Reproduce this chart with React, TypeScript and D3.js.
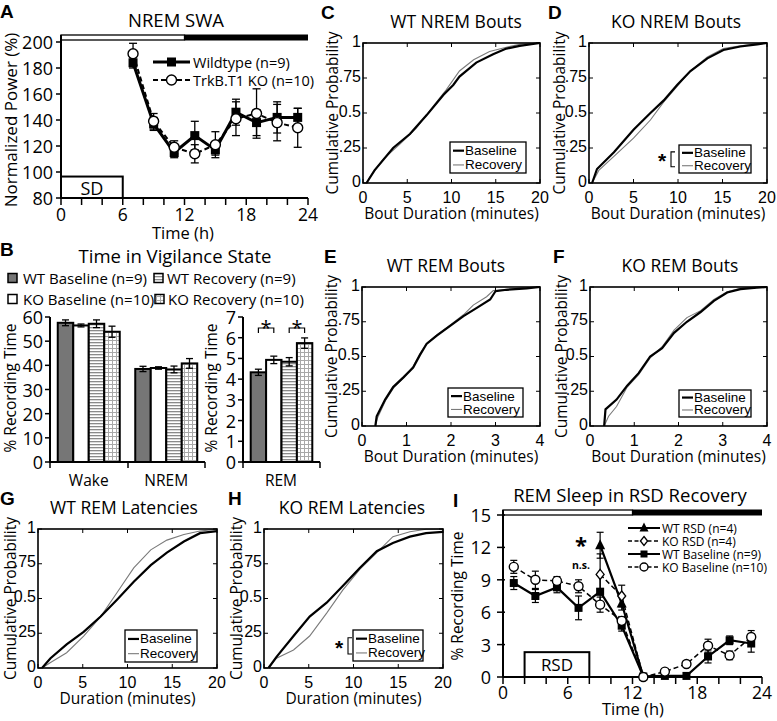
import React from "react";
import * as d3 from "d3";

const FC = "'Open Sans', sans-serif";
const FA = "'Liberation Sans', Arial, sans-serif";

// ---------- Panel A data ----------
const swaTimes = [7, 9, 11, 13, 15, 17, 19, 21, 23];
const swaWT = [184, 137, 115, 128, 117, 146, 138, 142, 142];
const swaWTErr = [4, 5, 4, 11, 4, 10, 10, 12, 7];
const swaKO = [191, 139, 119, 114, 121, 141, 145, 138, 134];
const swaKOErr = [8, 6, 5, 7, 10, 13, 19, 14, 15];
const swaYTicks = [80, 100, 120, 140, 160, 180, 200];
const hourTicks = [0, 6, 12, 18, 24];
const minorHours = [0, 2, 4, 6, 8, 10, 12, 14, 16, 18, 20, 22, 24];

// ---------- Panel B data ----------
const stateGroups = ["WT Baseline (n=9)", "KO Baseline (n=10)", "WT Recovery (n=9)", "KO Recovery (n=10)"];
const stateCats = ["Wake", "NREM"];
const wakePct = [57.6, 56.5, 57.2, 53.9];
const wakeErr = [1.2, 0.6, 1.6, 2.3];
const nremPct = [38.5, 38.9, 38.3, 40.8];
const nremErr = [1.1, 0.5, 1.4, 2.0];
const remPct = [4.33, 4.93, 4.84, 5.74];
const remErr = [0.15, 0.18, 0.2, 0.25];
const pctTicks = [0, 10, 20, 30, 40, 50, 60];
const remTicks = [0, 1, 2, 3, 4, 5, 6, 7];

// ---------- CDF data (duration, cumulative probability) ----------
const cBase: [number, number][] = [[0.4, 0], [1.3, 0.09], [3.4, 0.25], [5.3, 0.35], [7.2, 0.485], [9.1, 0.63], [10.2, 0.7], [10.9, 0.76], [12.8, 0.86], [14.7, 0.92], [16.2, 0.96], [17.7, 0.98], [20, 1]];
const cRec: [number, number][] = [[0.4, 0], [0.75, 0.04], [2.3, 0.17], [4.2, 0.28], [6.0, 0.39], [7.9, 0.545], [9.4, 0.665], [10.9, 0.8], [12.5, 0.88], [14.3, 0.94], [16.2, 0.97], [17.7, 0.99], [20, 1]];
const dBase: [number, number][] = [[0.35, 0], [0.9, 0.1], [2.8, 0.22], [5.0, 0.38], [6.9, 0.5], [8.4, 0.59], [9.9, 0.7], [11.4, 0.8], [13.3, 0.89], [15.1, 0.95], [17.0, 0.975], [18.9, 0.99], [20, 1]];
const dRec: [number, number][] = [[0.35, 0], [1.1, 0.09], [2.8, 0.19], [5.0, 0.32], [6.9, 0.45], [8.4, 0.58], [9.9, 0.69], [11.4, 0.8], [13.3, 0.9], [15.1, 0.96], [17.0, 0.98], [18.9, 0.995], [20, 1]];
const eBase: [number, number][] = [[0.3, 0], [0.33, 0.07], [0.52, 0.19], [0.7, 0.28], [0.93, 0.35], [1.15, 0.42], [1.3, 0.51], [1.45, 0.59], [1.68, 0.65], [1.98, 0.72], [2.28, 0.79], [2.58, 0.85], [2.88, 0.91], [3.0, 0.97], [3.25, 0.98], [3.7, 0.99], [4, 1]];
const eRec: [number, number][] = [[0.3, 0], [0.35, 0.06], [0.54, 0.19], [0.72, 0.28], [0.95, 0.35], [1.15, 0.43], [1.3, 0.52], [1.47, 0.6], [1.7, 0.66], [2.0, 0.73], [2.28, 0.8], [2.5, 0.87], [2.8, 0.93], [2.95, 0.975], [3.3, 0.985], [3.7, 0.995], [4, 1]];
const fBase: [number, number][] = [[0.32, 0], [0.35, 0.12], [0.6, 0.19], [0.84, 0.29], [1.1, 0.38], [1.36, 0.5], [1.63, 0.56], [1.9, 0.67], [2.19, 0.75], [2.5, 0.82], [2.8, 0.9], [3.1, 0.96], [3.4, 0.985], [3.77, 0.995], [4, 1]];
const fRec: [number, number][] = [[0.32, 0], [0.42, 0.07], [0.6, 0.14], [0.84, 0.28], [1.1, 0.37], [1.36, 0.49], [1.63, 0.57], [1.9, 0.69], [2.19, 0.78], [2.5, 0.83], [2.8, 0.91], [3.1, 0.965], [3.4, 0.99], [3.77, 0.997], [4, 1]];
const gBase: [number, number][] = [[0.45, 0], [1.4, 0.07], [3.2, 0.17], [5.1, 0.26], [7.0, 0.37], [8.8, 0.49], [10.7, 0.62], [12.6, 0.74], [14.4, 0.83], [16.3, 0.91], [18.1, 0.97], [20, 0.985]];
const gRec: [number, number][] = [[0.45, 0], [1.4, 0.04], [3.2, 0.11], [5.1, 0.23], [7.0, 0.37], [8.8, 0.54], [10.7, 0.72], [12.6, 0.85], [14.4, 0.92], [16.3, 0.96], [18.1, 0.985], [20, 1]];
const hBase: [number, number][] = [[0.5, 0], [1.4, 0.08], [3.3, 0.23], [5.1, 0.37], [7.0, 0.47], [8.8, 0.59], [10.7, 0.72], [12.6, 0.84], [14.4, 0.9], [16.3, 0.945], [18.1, 0.97], [20, 0.98]];
const hRec: [number, number][] = [[0.5, 0], [1.4, 0.07], [3.3, 0.13], [5.1, 0.23], [7.0, 0.395], [8.8, 0.56], [10.7, 0.71], [12.6, 0.83], [14.4, 0.945], [16.3, 0.98], [18.1, 0.998], [20, 1]];
const ticks20 = [0, 5, 10, 15, 20];
const ticks4 = [0, 1, 2, 3, 4];
const probTicks = [0, 0.25, 0.5, 0.75, 1];
const probLabels = ["0", ".25", "0.5", ".75", "1"];

// ---------- Panel I data ----------
const rsdTimes = [1, 3, 5, 7, 9, 11, 13, 15, 17, 19, 21, 23];
const wtBase = [8.7, 7.5, 8.3, 6.4, 7.9, 4.75, 0.05, 0.1, 0.1, 1.9, 3.4, 3.1];
const wtBaseErr = [0.6, 0.6, 0.5, 1.1, 1.5, 0.5, 0.1, 0.1, 0.1, 0.6, 0.4, 0.8];
const koBase = [10.2, 9.0, 8.9, 8.4, 6.7, 5.2, 0, 0.5, 1.2, 2.9, 2.0, 3.7];
const koBaseErr = [0.6, 0.8, 0.4, 0.6, 0.7, 0.4, 0.05, 0.1, 0.3, 0.6, 0.4, 0.6];
const rsdSubTimes = [9, 11, 13];
const wtRsd = [12.2, 6.8, 0.05];
const wtRsdErr = [1.2, 0.6, 0.05];
const koRsd = [9.5, 7.5, 0.05];
const koRsdErr = [1.9, 1.0, 0.05];
const iYTicks = [0, 3, 6, 9, 12, 15];

function ErrBar({ x, ya, yb, cap = 4, sw = 1.3 }: { x: number; ya: number; yb: number; cap?: number; sw?: number }) {
  return (
    <g stroke="#000" strokeWidth={sw}>
      <line x1={x} x2={x} y1={ya} y2={yb} />
      <line x1={x - cap} x2={x + cap} y1={ya} y2={ya} />
      <line x1={x - cap} x2={x + cap} y1={yb} y2={yb} />
    </g>
  );
}

function Sq({ x, y, s = 9 }: { x: number; y: number; s?: number }) {
  return <rect x={x - s / 2} y={y - s / 2} width={s} height={s} fill="#000" />;
}
function Circ({ x, y, r = 5 }: { x: number; y: number; r?: number }) {
  return <circle cx={x} cy={y} r={r} fill="#fff" stroke="#000" strokeWidth={1.4} />;
}
function Tri({ x, y, s = 10 }: { x: number; y: number; s?: number }) {
  return <path d={`M${x},${y - s * 0.6}L${x + s / 2},${y + s * 0.4}L${x - s / 2},${y + s * 0.4}Z`} fill="#000" />;
}
function Dia({ x, y, s = 5 }: { x: number; y: number; s?: number }) {
  return <path d={`M${x},${y - s}L${x + s * 0.8},${y}L${x},${y + s}L${x - s * 0.8},${y}Z`} fill="#fff" stroke="#000" strokeWidth={1.3} />;
}

function PanelA() {
  const x = d3.scaleLinear().domain([0, 24]).range([61, 308]);
  const y = d3.scaleLinear().domain([80, 200]).range([198, 42]);
  const ln = d3.line<number>().x((_, i) => x(swaTimes[i])).y((d) => y(d));
  return (
    <g>
      <text x={0} y={18} fontFamily={FA} fontWeight="bold" fontSize={19}>A</text>
      <text x={176} y={27} textAnchor="middle" fontFamily={FC} fontSize={18.5}>NREM SWA</text>
      <rect x={x(0)} y={35} width={x(12) - x(0)} height={5} fill="#fff" stroke="#000" strokeWidth={1.3} />
      <rect x={x(12)} y={34.5} width={x(24) - x(12)} height={6} fill="#000" />
      <line x1={x(0)} x2={x(0)} y1={35} y2={y(80)} stroke="#000" strokeWidth={2} />
      <line x1={x(0)} x2={x(24)} y1={y(80)} y2={y(80)} stroke="#000" strokeWidth={2} />
      {swaYTicks.map((t) => (
        <g key={t}>
          <line x1={x(0) - 5} x2={x(0)} y1={y(t)} y2={y(t)} stroke="#000" strokeWidth={1.5} />
          <text x={x(0) - 8} y={y(t)} textAnchor="end" dominantBaseline="central" fontFamily={FC} fontSize={18}>{t}</text>
        </g>
      ))}
      {minorHours.map((t) => (
        <line key={t} x1={x(t)} x2={x(t)} y1={y(80)} y2={y(80) + 7} stroke="#000" strokeWidth={1.5} />
      ))}
      {hourTicks.map((t) => (
        <text key={t} x={x(t)} y={221} textAnchor="middle" fontFamily={FC} fontSize={17.5}>{t}</text>
      ))}
      <text x={183} y={239} textAnchor="middle" fontFamily={FC} fontSize={16.5}>Time (h)</text>
      <text transform={`translate(10,${y(140)}) rotate(-90)`} textAnchor="middle" dominantBaseline="central" fontFamily={FC} fontSize={17}>Normalized Power (%)</text>
      <rect x={x(0)} y={y(96.5)} width={x(6) - x(0)} height={y(80) - y(96.5)} fill="#fff" stroke="#000" strokeWidth={2} />
      <text x={x(3)} y={y(88)} textAnchor="middle" dominantBaseline="central" fontFamily={FC} fontSize={18}>SD</text>
      {swaTimes.map((t, i) => (
        <ErrBar key={"we" + i} x={x(t)} ya={y(swaWT[i] + swaWTErr[i])} yb={y(swaWT[i] - swaWTErr[i])} />
      ))}
      {swaTimes.map((t, i) => (
        <ErrBar key={"ke" + i} x={x(t)} ya={y(swaKO[i] + swaKOErr[i])} yb={y(swaKO[i] - swaKOErr[i])} />
      ))}
      <path d={ln(swaWT) || ""} fill="none" stroke="#000" strokeWidth={3} />
      <path d={ln(swaKO) || ""} fill="none" stroke="#000" strokeWidth={2} strokeDasharray="5,3" />
      {swaTimes.map((t, i) => <Sq key={"ws" + i} x={x(t)} y={y(swaWT[i])} />)}
      {swaTimes.map((t, i) => <Circ key={"kc" + i} x={x(t)} y={y(swaKO[i])} />)}
      <line x1={153} x2={190} y1={62} y2={62} stroke="#000" strokeWidth={3} />
      <Sq x={171.5} y={62} />
      <text x={193} y={62} dominantBaseline="central" fontFamily={FC} fontSize={14.5}>Wildtype (n=9)</text>
      <line x1={153} x2={190} y1={80} y2={80} stroke="#000" strokeWidth={2} strokeDasharray="5,3" />
      <Circ x={171.5} y={80} />
      <text x={193} y={80} dominantBaseline="central" fontFamily={FC} fontSize={14.5}>TrkB.T1 KO (n=10)</text>
    </g>
  );
}

const groupFills = ["#767676", "#ffffff", "url(#hstripe)", "url(#gridp)"];

function BarGroup({ outer, cat, vals, errs, y }: { outer: d3.ScaleBand<string>; cat: string; vals: number[]; errs: number[]; y: d3.ScaleLinear<number, number> }) {
  const inner = d3.scaleBand().domain(stateGroups).range([0, outer.bandwidth()]).paddingInner(0).paddingOuter(0.5);
  const x0 = outer(cat) || 0;
  return (
    <g>
      {stateGroups.map((g, i) => (
        <rect key={g} x={x0 + (inner(g) || 0)} y={y(vals[i])} width={inner.bandwidth()} height={y(0) - y(vals[i])} fill={groupFills[i]} stroke="#000" strokeWidth={2} />
      ))}
      {stateGroups.map((g, i) => {
        const cx = x0 + (inner(g) || 0) + inner.bandwidth() / 2;
        return <ErrBar key={"e" + g} x={cx} ya={y(vals[i] + errs[i])} yb={y(vals[i] - errs[i])} cap={3.5} />;
      })}
    </g>
  );
}

function PanelB() {
  const yL = d3.scaleLinear().domain([0, 60]).range([462, 317]);
  const yR = d3.scaleLinear().domain([0, 7]).range([462, 317]);
  const xL = d3.scaleBand().domain(stateCats).range([50, 205]);
  const xR = d3.scaleBand().domain(["REM"]).range([243, 320]);
  const innerR = d3.scaleBand().domain(stateGroups).range([0, xR.bandwidth()]).paddingOuter(0.5);
  const cxR = (i: number) => (xR("REM") || 0) + (innerR(stateGroups[i]) || 0) + innerR.bandwidth() / 2;
  const legend = [
    { g: 0, x: 8, y: 278, tx: 23 },
    { g: 2, x: 154, y: 278, tx: 167 },
    { g: 1, x: 8, y: 299, tx: 23 },
    { g: 3, x: 155, y: 299, tx: 168 },
  ];
  const bracket = (a: number, b: number) => {
    const x1 = cxR(a), x2 = cxR(b);
    return (
      <g>
        <path d={`M${x1},${333}V${328}H${x2}V${333}`} fill="none" stroke="#000" strokeWidth={1.2} />
        <text x={(x1 + x2) / 2} y={335} textAnchor="middle" fontFamily={FC} fontSize={20}>*</text>
      </g>
    );
  };
  return (
    <g>
      <text x={0} y={256} fontFamily={FA} fontWeight="bold" fontSize={19}>B</text>
      <text x={175} y={263} textAnchor="middle" fontFamily={FC} fontSize={18.5}>Time in Vigilance State</text>
      {legend.map((l) => (
        <g key={l.g}>
          <rect x={l.x} y={l.y - 4.5} width={9} height={9} fill={groupFills[l.g]} stroke="#000" strokeWidth={1.5} />
          <text x={l.tx} y={l.y} dominantBaseline="central" fontFamily={FC} fontSize={15}>{stateGroups[l.g]}</text>
        </g>
      ))}
      <BarGroup outer={xL} cat="Wake" vals={wakePct} errs={wakeErr} y={yL} />
      <BarGroup outer={xL} cat="NREM" vals={nremPct} errs={nremErr} y={yL} />
      <line x1={50} x2={50} y1={317} y2={463} stroke="#000" strokeWidth={2} />
      <line x1={50} x2={205} y1={462} y2={462} stroke="#000" strokeWidth={2} />
      {pctTicks.map((t) => (
        <g key={t}>
          <line x1={45} x2={50} y1={yL(t)} y2={yL(t)} stroke="#000" strokeWidth={1.5} />
          <text x={43} y={yL(t)} textAnchor="end" dominantBaseline="central" fontFamily={FC} fontSize={18}>{t}</text>
        </g>
      ))}
      {[50, 128, 205].map((v) => <line key={v} x1={v} x2={v} y1={462} y2={468} stroke="#000" strokeWidth={1.5} />)}
      {stateCats.map((c) => (
        <text key={c} x={(xL(c) || 0) + xL.bandwidth() / 2} y={486} textAnchor="middle" fontFamily={FC} fontSize={15.5}>{c}</text>
      ))}
      <text transform={`translate(9.5,388) rotate(-90)`} textAnchor="middle" dominantBaseline="central" fontFamily={FC} fontSize={15.5}>% Recording Time</text>
      <BarGroup outer={xR} cat="REM" vals={remPct} errs={remErr} y={yR} />
      <line x1={243} x2={243} y1={317} y2={463} stroke="#000" strokeWidth={2} />
      <line x1={243} x2={320} y1={462} y2={462} stroke="#000" strokeWidth={2} />
      {remTicks.map((t) => (
        <g key={t}>
          <line x1={238} x2={243} y1={yR(t)} y2={yR(t)} stroke="#000" strokeWidth={1.5} />
          <text x={236} y={yR(t)} textAnchor="end" dominantBaseline="central" fontFamily={FC} fontSize={18}>{t}</text>
        </g>
      ))}
      {[243, 320].map((v) => <line key={v} x1={v} x2={v} y1={462} y2={468} stroke="#000" strokeWidth={1.5} />)}
      <text x={281} y={486} textAnchor="middle" fontFamily={FC} fontSize={15.5}>REM</text>
      <text transform={`translate(211,388) rotate(-90)`} textAnchor="middle" dominantBaseline="central" fontFamily={FC} fontSize={15.5}>% Recording Time</text>
      {bracket(0, 1)}
      {bracket(2, 3)}
    </g>
  );
}

type CdfProps = {
  x0: number; x1: number; y0: number; y1: number; xmax: number; xticks: number[];
  title: string; titleX: number; tag: string; tagX: number; ylabX: number; xlab: string;
  base: [number, number][]; rec: [number, number][];
  leg: { x: number; y: number; w: number; h: number }; star?: number;
};

function Cdf(p: CdfProps) {
  const xs = d3.scaleLinear().domain([0, p.xmax]).range([p.x0, p.x1]);
  const ys = d3.scaleLinear().domain([0, 1]).range([p.y1, p.y0]);
  const line = d3.line<[number, number]>().x((d) => xs(d[0])).y((d) => ys(d[1]));
  const tl = 4;
  const r1 = p.leg.y + p.leg.h * 0.28;
  const r2 = p.leg.y + p.leg.h * 0.74;
  return (
    <g>
      <text x={p.tagX} y={p.y0 - 24} fontFamily={FA} fontWeight="bold" fontSize={19}>{p.tag}</text>
      <text x={p.titleX} y={p.y0 - 15} textAnchor="middle" fontFamily={FC} fontSize={17.5}>{p.title}</text>
      <path d={line(p.rec) || ""} fill="none" stroke="#7a7a7a" strokeWidth={1.1} />
      <path d={line(p.base) || ""} fill="none" stroke="#000" strokeWidth={2.2} />
      <rect x={p.x0} y={p.y0} width={p.x1 - p.x0} height={p.y1 - p.y0} fill="none" stroke="#000" strokeWidth={1.6} />
      {p.xticks.map((t) => (
        <g key={"x" + t}>
          <line x1={xs(t)} x2={xs(t)} y1={p.y1} y2={p.y1 - tl} stroke="#000" />
          <line x1={xs(t)} x2={xs(t)} y1={p.y0} y2={p.y0 + tl} stroke="#000" />
          <text x={xs(t)} y={p.y1 + 20} textAnchor="middle" fontFamily={FA} fontSize={16}>{t}</text>
        </g>
      ))}
      {probTicks.map((t, i) => (
        <g key={"y" + t}>
          <line x1={p.x0} x2={p.x0 + tl} y1={ys(t)} y2={ys(t)} stroke="#000" />
          <line x1={p.x1} x2={p.x1 - tl} y1={ys(t)} y2={ys(t)} stroke="#000" />
          <text x={p.x0 - 2} y={ys(t) - 2} textAnchor="end" dominantBaseline="central" fontFamily={FA} fontSize={16}>{probLabels[i]}</text>
        </g>
      ))}
      <text transform={`translate(${p.ylabX},${(p.y0 + p.y1) / 2}) rotate(-90)`} textAnchor="middle" dominantBaseline="central" fontFamily={FC} fontSize={15.5}>Cumulative Probability</text>
      <text x={(p.x0 + p.x1) / 2} y={p.y1 + 36} textAnchor="middle" fontFamily={FC} fontSize={15.5}>{p.xlab}</text>
      <rect x={p.leg.x} y={p.leg.y} width={p.leg.w} height={p.leg.h} fill="#fff" stroke="#000" strokeWidth={1.3} />
      <line x1={p.leg.x + 3} x2={p.leg.x + 14} y1={r1} y2={r1} stroke="#000" strokeWidth={2.2} />
      <text x={p.leg.x + 15} y={r1} dominantBaseline="central" fontFamily={FA} fontSize={13.5}>Baseline</text>
      <line x1={p.leg.x + 3} x2={p.leg.x + 14} y1={r2} y2={r2} stroke="#7a7a7a" strokeWidth={1.1} />
      <text x={p.leg.x + 15} y={r2} dominantBaseline="central" fontFamily={FA} fontSize={13.5}>Recovery</text>
      {p.star !== undefined && (
        <g>
          <text x={p.star} y={(r1 + r2) / 2 + 9} fontFamily={FA} fontWeight="bold" fontSize={21}>*</text>
          <path d={`M${p.star + 17},${r1 - 1}H${p.star + 13}V${r2 + 1}H${p.star + 17}`} fill="none" stroke="#000" strokeWidth={1.1} />
        </g>
      )}
    </g>
  );
}

function PanelI() {
  const x = d3.scaleLinear().domain([0, 24]).range([503, 762]);
  const y = d3.scaleLinear().domain([0, 15]).range([677, 515]);
  const ln = (ts: number[]) => d3.line<number>().x((_, i) => x(ts[i])).y((d) => y(d));
  const lnB = ln(rsdTimes);
  const lnR = ln(rsdSubTimes);
  const legRows = [528, 541, 554, 567];
  return (
    <g>
      <text x={453} y={507} fontFamily={FA} fontWeight="bold" fontSize={19}>I</text>
      <text x={630} y={502} textAnchor="middle" fontFamily={FC} fontSize={18.5}>REM Sleep in RSD Recovery</text>
      <rect x={x(0)} y={510} width={x(12) - x(0)} height={5} fill="#fff" stroke="#000" strokeWidth={1.3} />
      <rect x={x(12)} y={509.5} width={x(24) - x(12)} height={6} fill="#000" />
      <line x1={x(0)} x2={x(0)} y1={510} y2={y(0)} stroke="#000" strokeWidth={2} />
      <line x1={x(0)} x2={x(24)} y1={y(0)} y2={y(0)} stroke="#000" strokeWidth={2} />
      {iYTicks.map((t) => (
        <g key={t}>
          <line x1={x(0) - 6} x2={x(0) + 2} y1={y(t)} y2={y(t)} stroke="#000" strokeWidth={1.5} />
          <text x={x(0) - 12} y={y(t)} textAnchor="end" dominantBaseline="central" fontFamily={FC} fontSize={18}>{t}</text>
        </g>
      ))}
      {minorHours.map((t) => (
        <line key={t} x1={x(t)} x2={x(t)} y1={y(0)} y2={y(0) + 7} stroke="#000" strokeWidth={1.5} />
      ))}
      {hourTicks.map((t) => (
        <text key={t} x={x(t)} y={699} textAnchor="middle" fontFamily={FC} fontSize={17.5}>{t}</text>
      ))}
      <text x={633} y={715} textAnchor="middle" fontFamily={FC} fontSize={16.5}>Time (h)</text>
      <text transform={`translate(457,596) rotate(-90)`} textAnchor="middle" dominantBaseline="central" fontFamily={FC} fontSize={15.5}>% Recording Time</text>
      <rect x={x(2)} y={y(2.3)} width={x(8) - x(2)} height={y(0) - y(2.3)} fill="#fff" stroke="#000" strokeWidth={2} />
      <text x={x(5)} y={y(1.15)} textAnchor="middle" dominantBaseline="central" fontFamily={FC} fontSize={17}>RSD</text>
      {rsdTimes.map((t, i) => <ErrBar key={"wb" + i} x={x(t)} ya={y(wtBase[i] + wtBaseErr[i])} yb={y(wtBase[i] - wtBaseErr[i])} cap={3.5} sw={1.2} />)}
      {rsdTimes.map((t, i) => <ErrBar key={"kb" + i} x={x(t)} ya={y(koBase[i] + koBaseErr[i])} yb={y(koBase[i] - koBaseErr[i])} cap={3.5} sw={1.2} />)}
      {rsdSubTimes.map((t, i) => <ErrBar key={"wr" + i} x={x(t)} ya={y(wtRsd[i] + wtRsdErr[i])} yb={y(wtRsd[i] - wtRsdErr[i])} cap={3.5} sw={1.2} />)}
      {rsdSubTimes.map((t, i) => <ErrBar key={"kr" + i} x={x(t)} ya={y(koRsd[i] + koRsdErr[i])} yb={y(koRsd[i] - koRsdErr[i])} cap={3.5} sw={1.2} />)}
      <path d={lnR(koRsd) || ""} fill="none" stroke="#000" strokeWidth={1.5} strokeDasharray="5,3" />
      <path d={lnR(wtRsd) || ""} fill="none" stroke="#000" strokeWidth={2.2} />
      <path d={lnB(koBase) || ""} fill="none" stroke="#000" strokeWidth={1.5} strokeDasharray="5,3" />
      <path d={lnB(wtBase) || ""} fill="none" stroke="#000" strokeWidth={2.2} />
      {rsdSubTimes.slice(0, 2).map((t, i) => <Tri key={"tr" + i} x={x(t)} y={y(wtRsd[i])} />)}
      {rsdSubTimes.slice(0, 2).map((t, i) => <Dia key={"di" + i} x={x(t)} y={y(koRsd[i])} />)}
      {rsdTimes.map((t, i) => <Sq key={"sq" + i} x={x(t)} y={y(wtBase[i])} s={8} />)}
      {rsdTimes.map((t, i) => <Circ key={"ci" + i} x={x(t)} y={y(koBase[i])} r={4.5} />)}
      <text x={581} y={553} textAnchor="middle" fontFamily={FC} fontWeight="bold" fontSize={22}>*</text>
      <text x={581} y={569} textAnchor="middle" fontFamily={FC} fontWeight="bold" fontSize={10.5}>n.s.</text>
      <line x1={628} x2={660} y1={legRows[0]} y2={legRows[0]} stroke="#000" strokeWidth={2} />
      <Tri x={644} y={legRows[0]} s={9} />
      <line x1={628} x2={660} y1={legRows[1]} y2={legRows[1]} stroke="#000" strokeWidth={1.4} strokeDasharray="4,2.5" />
      <Dia x={644} y={legRows[1]} s={4.5} />
      <line x1={628} x2={660} y1={legRows[2]} y2={legRows[2]} stroke="#000" strokeWidth={2} />
      <Sq x={644} y={legRows[2]} s={7} />
      <line x1={628} x2={660} y1={legRows[3]} y2={legRows[3]} stroke="#000" strokeWidth={1.4} strokeDasharray="4,2.5" />
      <Circ x={644} y={legRows[3]} r={4} />
      {["WT RSD (n=4)", "KO RSD (n=4)", "WT Baseline (n=9)", "KO Baseline (n=10)"].map((s, i) => (
        <text key={s} x={662} y={legRows[i]} dominantBaseline="central" fontFamily={FC} fontSize={12}>{s}</text>
      ))}
    </g>
  );
}

export default function App() {
  return (
    <svg width={777} height={721} viewBox="0 0 777 721" style={{ position: "absolute", left: 0, top: 0, background: "#fff" }}>
      <defs>
        <pattern id="hstripe" width={4} height={3} patternUnits="userSpaceOnUse">
          <rect width={4} height={3} fill="#fff" />
          <rect width={4} height={1.3} fill="#8a8a8a" />
        </pattern>
        <pattern id="gridp" width={4} height={4} patternUnits="userSpaceOnUse">
          <rect width={4} height={4} fill="#fff" />
          <path d="M0,0.5H4M0.5,0V4" stroke="#a8a8a8" strokeWidth={1} />
        </pattern>
      </defs>
      <rect width={777} height={721} fill="#fff" />
      <PanelA />
      <PanelB />
      <Cdf x0={363} x1={540} y0={43} y1={183} xmax={20} xticks={ticks20} title="WT NREM Bouts" titleX={456} tag="C" tagX={321} ylabX={332} xlab="Bout Duration (minutes)" base={cBase} rec={cRec} leg={{ x: 450, y: 142, w: 76, h: 31 }} />
      <Cdf x0={589} x1={767} y0={43} y1={183} xmax={20} xticks={ticks20} title="KO NREM Bouts" titleX={676} tag="D" tagX={548} ylabX={559} xlab="Bout Duration (minutes)" base={dBase} rec={dRec} leg={{ x: 679, y: 145, w: 72, h: 28 }} star={658} />
      <Cdf x0={362} x1={540} y0={287} y1={426} xmax={4} xticks={ticks4} title="WT REM Bouts" titleX={446} tag="E" tagX={324} ylabX={331} xlab="Bout Duration (minutes)" base={eBase} rec={eRec} leg={{ x: 448, y: 388, w: 75, h: 29 }} />
      <Cdf x0={590} x1={767} y0={287} y1={426} xmax={4} xticks={ticks4} title="KO REM Bouts" titleX={680} tag="F" tagX={553} ylabX={561} xlab="Bout Duration (minutes)" base={fBase} rec={fRec} leg={{ x: 679, y: 390, w: 72, h: 27 }} />
      <Cdf x0={38} x1={217} y0={529} y1={668} xmax={20} xticks={ticks20} title="WT REM Latencies" titleX={124} tag="G" tagX={0} ylabX={10} xlab="Duration (minutes)" base={gBase} rec={gRec} leg={{ x: 125, y: 630, w: 72, h: 32 }} />
      <Cdf x0={264} x1={443} y0={529} y1={668} xmax={20} xticks={ticks20} title="KO REM Latencies" titleX={352} tag="H" tagX={228} ylabX={236} xlab="Duration (minutes)" base={hBase} rec={hRec} leg={{ x: 353, y: 630, w: 70, h: 31 }} star={335} />
      <PanelI />
    </svg>
  );
}
